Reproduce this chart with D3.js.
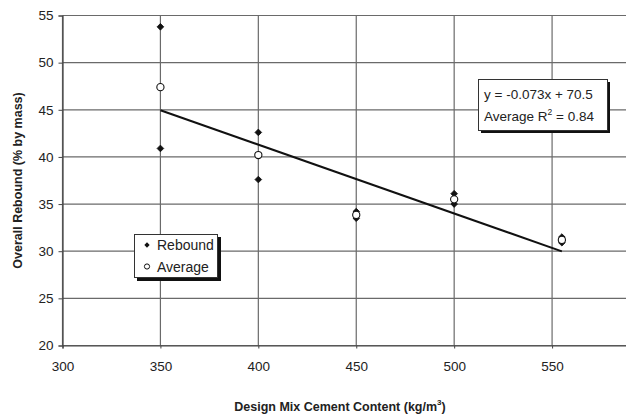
<!DOCTYPE html>
<html><head><meta charset="utf-8">
<script src="https://cdn.jsdelivr.net/npm/d3@7"></script>
<style>body{margin:0;background:#fff;overflow:hidden}svg{display:block}</style>
</head><body>
<svg id="c" width="626" height="416"></svg>
<script>
const reboundX = [350, 350, 400, 400, 450, 450, 500, 500, 555, 555];
const reboundY = [53.8, 40.9, 42.6, 37.6, 34.2, 33.5, 36.1, 35.0, 31.5, 30.9];
const averageX = [350, 400, 450, 500, 555];
const averageY = [47.4, 40.2, 33.85, 35.5, 31.2];
const fitX = [350, 555];
const fitSlope = -0.073, fitIntercept = 70.5;
const xTicks = [300, 350, 400, 450, 500, 550];
const yTicks = [20, 25, 30, 35, 40, 45, 50, 55];

const svg = d3.select("#c");
const x = d3.scaleLinear().domain([300, 600]).range([62.5, 650]);
const y = d3.scaleLinear().domain([20, 55]).range([345.5, 15.5]);
const font = "Arial, 'Liberation Sans', sans-serif";
const grid = "#6a6a6a";

// gridlines
svg.append("g").selectAll("line").data(yTicks).join("line")
  .attr("x1", x(300)).attr("x2", 626).attr("y1", d => y(d)).attr("y2", d => y(d))
  .attr("stroke", grid).attr("stroke-width", 1.2);
svg.append("g").selectAll("line").data(xTicks).join("line")
  .attr("x1", d => x(d)).attr("x2", d => x(d)).attr("y1", y(55)).attr("y2", y(20))
  .attr("stroke", grid).attr("stroke-width", 1.2);

// axes
const ya = svg.append("g").attr("transform", `translate(${x(300)},0)`)
  .call(d3.axisLeft(y).tickValues(yTicks).tickSize(4).tickPadding(5).tickFormat(d3.format("d")));
const xa = svg.append("g").attr("transform", `translate(0,${y(20)})`)
  .call(d3.axisBottom(x).tickValues(xTicks).tickSize(3).tickPadding(13).tickFormat(d3.format("d")));
[ya, xa].forEach(a => {
  a.select(".domain").attr("stroke", "#444").attr("stroke-width", 1.2);
  a.selectAll(".tick line").attr("stroke", "#444");
  a.selectAll("text").attr("font-family", font).attr("font-size", 13.5).attr("fill", "#222");
});

// regression line
svg.append("line")
  .attr("x1", x(fitX[0])).attr("y1", y(fitSlope * fitX[0] + fitIntercept))
  .attr("x2", x(fitX[1])).attr("y2", y(fitSlope * fitX[1] + fitIntercept))
  .attr("stroke", "#111").attr("stroke-width", 2);

// rebound markers (filled diamonds = rotated squares)
const diamond = d3.symbol().type(d3.symbolSquare).size(22);
svg.append("g").selectAll("path").data(reboundX.map((d, i) => [d, reboundY[i]])).join("path")
  .attr("d", diamond).attr("transform", d => `translate(${x(d[0])},${y(d[1])}) rotate(45)`)
  .attr("fill", "#111").attr("stroke", "#111").attr("stroke-width", 0.8);
// average markers (open circles)
svg.append("g").selectAll("circle").data(averageX.map((d, i) => [d, averageY[i]])).join("circle")
  .attr("cx", d => x(d[0])).attr("cy", d => y(d[1])).attr("r", 3.6)
  .attr("fill", "#fff").attr("stroke", "#111").attr("stroke-width", 1.1);

// legend
const lg = svg.append("g");
lg.append("rect").attr("x", 137).attr("y", 237).attr("width", 84).attr("height", 44).attr("fill", "#111");
lg.append("rect").attr("x", 134.5).attr("y", 234.5).attr("width", 83).attr("height", 43)
  .attr("fill", "#fff").attr("stroke", "#333").attr("stroke-width", 1);
lg.append("path").attr("d", d3.symbol().type(d3.symbolSquare).size(14)).attr("transform", "translate(147,245) rotate(45)").attr("fill", "#111");
lg.append("circle").attr("cx", 147).attr("cy", 266.5).attr("r", 2.6).attr("fill", "#fff").attr("stroke", "#111");
lg.append("text").attr("x", 157).attr("y", 250).text("Rebound")
  .attr("font-family", font).attr("font-size", 14).attr("fill", "#222");
lg.append("text").attr("x", 157).attr("y", 271.5).text("Average")
  .attr("font-family", font).attr("font-size", 14).attr("fill", "#222");

// equation box
const eq = svg.append("g");
eq.append("rect").attr("x", 481).attr("y", 82).attr("width", 129).attr("height", 51).attr("fill", "#111");
eq.append("rect").attr("x", 478.5).attr("y", 79.5).attr("width", 129).attr("height", 51)
  .attr("fill", "#fff").attr("stroke", "#333").attr("stroke-width", 1);
eq.append("text").attr("x", 484).attr("y", 99).text("y = -0.073x + 70.5")
  .attr("font-family", font).attr("font-size", 13.5).attr("fill", "#222");
const t2 = eq.append("text").attr("x", 484).attr("y", 121)
  .attr("font-family", font).attr("font-size", 13.5).attr("fill", "#222");
t2.append("tspan").text("Average R");
t2.append("tspan").text("2").attr("font-size", 8.5).attr("dy", -6);
t2.append("tspan").text(" = 0.84").attr("dy", 6);

// axis titles
const xt = svg.append("text").attr("x", 340).attr("y", 411).attr("text-anchor", "middle")
  .attr("font-family", font).attr("font-size", 12.5).attr("font-weight", "bold").attr("fill", "#222");
xt.append("tspan").text("Design Mix Cement Content (kg/m");
xt.append("tspan").text("3").attr("font-size", 8).attr("dy", -6);
xt.append("tspan").text(")").attr("dy", 6);
svg.append("text").attr("transform", `translate(22,${y(37.5)}) rotate(-90)`).attr("text-anchor", "middle")
  .attr("font-family", font).attr("font-size", 12.5).attr("font-weight", "bold").attr("fill", "#222")
  .text("Overall Rebound (% by mass)");
</script>
</body></html>
